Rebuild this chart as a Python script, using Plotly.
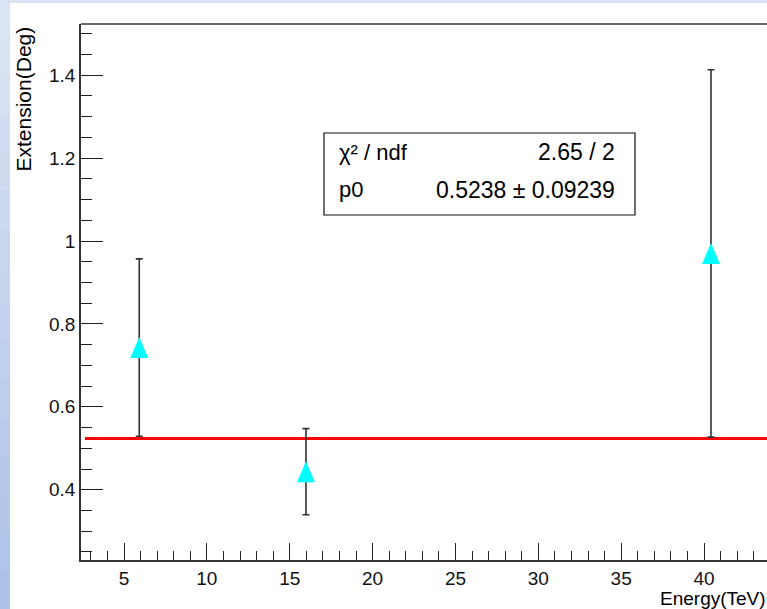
import plotly.graph_objects as go

# ---- data ----
energy = [5.92, 15.98, 40.42]
extension = [0.743, 0.4435, 0.970]
ext_err = [0.2138, 0.104, 0.443]
p0_value = 0.5238
p0_error = 0.09239
chi2 = 2.65
ndf = 2
fit_x = [2.64, 45.0]
fit_y = [p0_value, p0_value]

# ---- layout geometry (pixels) ----
W, H = 767, 609
L, T, R, B = 81, 24, 0, 49
PW, PH = W - L - R, H - T - B


def px(x):
    return (x - L) / PW


def py(y):
    return (H - B - y) / PH


FONT = "Liberation Sans, Arial, Helvetica, sans-serif"

fig = go.Figure()

fig.add_trace(go.Scatter(
    x=fit_x, y=fit_y, mode="lines",
    line=dict(color="#ff0000", width=3), showlegend=False, hoverinfo="skip"))

fig.add_trace(go.Scatter(
    x=energy, y=extension, mode="markers",
    marker=dict(symbol="triangle-up", color="#00ffff", size=1, opacity=0),
    error_y=dict(type="data", array=ext_err, visible=True,
                 color="#333333", thickness=1.6, width=3.5),
    showlegend=False))

shapes = []
# background gradient strips (left + top)
n = 16
c_top = (219, 228, 244)
c_bot = (172, 195, 232)
for i in range(n):
    f = i / (n - 1)
    c = tuple(int(round(c_top[k] + (c_bot[k] - c_top[k]) * f)) for k in range(3))
    y0 = i * H / n
    y1 = (i + 1) * H / n + 0.5
    shapes.append(dict(type="rect", xref="paper", yref="paper",
                       x0=px(0), x1=px(10), y0=py(y1), y1=py(y0),
                       fillcolor="rgb(%d,%d,%d)" % c, line=dict(width=0), layer="below"))
shapes.append(dict(type="rect", xref="paper", yref="paper",
                   x0=px(0), x1=px(W), y0=py(3), y1=py(0),
                   fillcolor="rgb(219,228,244)", line=dict(width=0), layer="below"))
# top frame line
shapes.append(dict(type="line", xref="paper", yref="paper",
                   x0=0, x1=1, y0=1, y1=1, line=dict(color="#333333", width=1.5)))
# stats box
shapes.append(dict(type="rect", xref="paper", yref="paper",
                   x0=px(324), x1=px(635), y0=py(215), y1=py(133),
                   fillcolor="white", line=dict(color="#111111", width=1.2), layer="above"))
# triangle markers (pixel-sized, anchored at data points)
for xv, yv in zip(energy, extension):
    shapes.append(dict(type="path", xref="x", yref="y",
                       xsizemode="pixel", ysizemode="pixel",
                       xanchor=xv, yanchor=yv,
                       path="M -9 -10.5 L 9 -10.5 L 0 10.5 Z",
                       fillcolor="#00ffff", line=dict(width=0), layer="above"))

annotations = [
    dict(text="χ² / ndf", x=px(337), y=py(152), xref="paper", yref="paper",
         xanchor="left", yanchor="middle", showarrow=False,
         font=dict(family=FONT, size=22, color="black")),
    dict(text="%.2f / %d" % (chi2, ndf), x=px(617), y=py(152), xref="paper", yref="paper",
         xanchor="right", yanchor="middle", showarrow=False,
         font=dict(family=FONT, size=23, color="black")),
    dict(text="p0", x=px(337), y=py(190), xref="paper", yref="paper",
         xanchor="left", yanchor="middle", showarrow=False,
         font=dict(family=FONT, size=22, color="black")),
    dict(text="%.4f ± %.5f" % (p0_value, p0_error), x=px(617), y=py(190),
         xref="paper", yref="paper",
         xanchor="right", yanchor="middle", showarrow=False,
         font=dict(family=FONT, size=23, color="black")),
    dict(text="Energy(TeV)", x=px(768), y=py(598), xref="paper", yref="paper",
         xanchor="right", yanchor="middle", showarrow=False,
         font=dict(family=FONT, size=19, color="black")),
    dict(text="Extension(Deg)", x=px(23), y=py(25), xref="paper", yref="paper",
         xanchor="center", yanchor="top", textangle=-90, showarrow=False,
         font=dict(family=FONT, size=21, color="black")),
]

fig.update_layout(
    width=W, height=H,
    margin=dict(l=L, r=R, t=T, b=B, pad=0),
    paper_bgcolor="white", plot_bgcolor="white",
    shapes=shapes, annotations=annotations,
    showlegend=False,
    font=dict(family=FONT, color="black"),
    xaxis=dict(range=[2.405, 43.8], showgrid=False, zeroline=False,
               showline=True, linecolor="#333333", linewidth=1.5, mirror=False,
               ticks="inside", ticklen=17, tickwidth=1.2, tickcolor="#222222",
               tick0=0, dtick=5, tickfont=dict(family=FONT, size=19, color="#111111"),
               minor=dict(ticks="inside", ticklen=9, dtick=1, tick0=0,
                          tickwidth=1.2, tickcolor="#222222", showgrid=False)),
    yaxis=dict(range=[0.2305, 1.5235], showgrid=False, zeroline=False,
               showline=True, linecolor="#333333", linewidth=1.5, mirror=False,
               ticks="inside", ticklen=22, tickwidth=1.2, tickcolor="#222222",
               tick0=0, dtick=0.2, tickfont=dict(family=FONT, size=19, color="#111111"),
               minor=dict(ticks="inside", ticklen=11, dtick=0.05, tick0=0,
                          tickwidth=1.2, tickcolor="#222222", showgrid=False)),
)

fig.write_html("out.html")
